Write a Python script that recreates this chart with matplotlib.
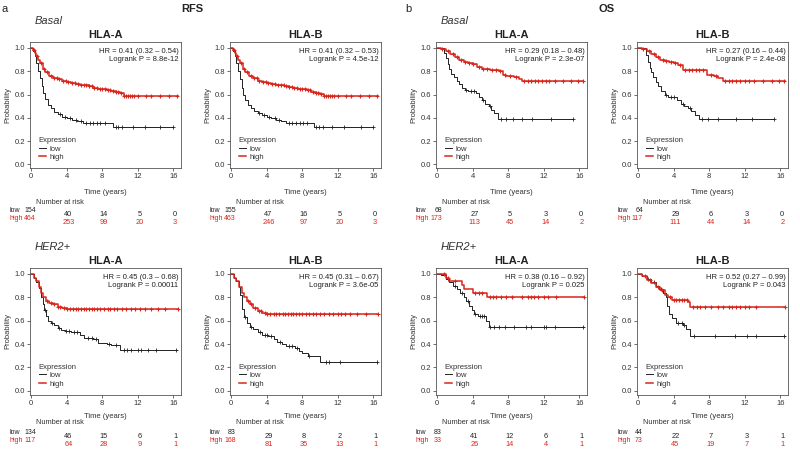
import numpy as np
import matplotlib
matplotlib.use('Agg')
import matplotlib.pyplot as plt
from matplotlib.transforms import blended_transform_factory

plt.rcParams['font.family'] = ['Liberation Sans', 'DejaVu Sans']

# ---------------- data ----------------
risk_times = [0, 4, 8, 12, 16]
x_ticks = [0, 4, 8, 12, 16]
y_ticks = [0.0, 0.2, 0.4, 0.6, 0.8, 1.0]
genes = ["HLA-A", "HLA-B", "HLA-A", "HLA-B", "HLA-A", "HLA-B", "HLA-A", "HLA-B"]
subtypes = ["Basal", None, "Basal", None, "HER2+", None, "HER2+", None]

# Panel 1: RFS Basal HLA-A
p1_low_t = [0, 0.2, 0.4, 0.6, 0.8, 1.0, 1.2, 1.4, 1.6, 1.9, 2.2, 2.6, 3.0, 3.5, 4.0, 4.6, 5.2, 5.8, 9.2, 16.0]
p1_low_s = [1.0, 0.97, 0.93, 0.87, 0.80, 0.74, 0.67, 0.61, 0.56, 0.51, 0.48, 0.45, 0.43, 0.41, 0.40, 0.38, 0.37, 0.355, 0.325, 0.325]
p1_low_c = [3.3, 3.8, 4.4, 5.0, 5.6, 6.2, 6.6, 7.0, 7.4, 7.8, 8.3, 9.5, 9.8, 10.2, 11.5, 12.8, 14.5, 15.9]
p1_high_t = [0, 0.2, 0.4, 0.6, 0.8, 1.0, 1.3, 1.6, 2.0, 2.5, 3.0, 3.5, 4.0, 4.5, 5.0, 5.5, 6.0, 6.5, 7.0, 7.5, 8.0, 8.5, 9.0, 9.5, 10.0, 10.4, 16.5]
p1_high_s = [1.0, 0.98, 0.96, 0.93, 0.90, 0.87, 0.82, 0.79, 0.76, 0.74, 0.73, 0.72, 0.71, 0.70, 0.69, 0.685, 0.68, 0.67, 0.66, 0.65, 0.645, 0.64, 0.63, 0.62, 0.61, 0.59, 0.59]
p1_high_c = [0.3, 0.7, 1.1, 1.5, 1.8, 2.2, 2.6, 2.9, 3.2, 3.6, 3.9, 4.2, 4.6, 4.9, 5.3, 5.6, 5.9, 6.2, 6.5, 6.8, 7.1, 7.4, 7.7, 8.0, 8.3, 8.6, 8.9, 9.2, 9.5, 9.8, 10.1, 10.5, 10.7, 10.9, 11.1, 11.3, 11.6, 12.0, 12.9, 13.5, 14.5, 15.5, 16.4]
p1_risk_low = [154, 40, 14, 5, 0]
p1_risk_high = [464, 253, 99, 20, 3]
p1_hr = "HR = 0.41 (0.32 \u2013 0.54)\nLogrank P = 8.8e-12"

# Panel 2: RFS Basal HLA-B
p2_low_t = [0, 0.2, 0.4, 0.6, 0.8, 1.0, 1.2, 1.4, 1.6, 1.9, 2.2, 2.6, 3.0, 3.5, 4.0, 4.5, 5.0, 5.6, 6.2, 9.3, 16.0]
p2_low_s = [1.0, 0.97, 0.93, 0.87, 0.80, 0.73, 0.66, 0.60, 0.55, 0.51, 0.48, 0.46, 0.44, 0.42, 0.41, 0.40, 0.38, 0.37, 0.355, 0.325, 0.325]
p2_low_c = [3.2, 3.7, 4.3, 4.9, 5.4, 6.5, 6.9, 7.3, 7.7, 8.1, 8.5, 9.6, 9.9, 10.3, 11.4, 12.7, 14.6, 15.9]
p2_high_t = [0, 0.2, 0.4, 0.6, 0.8, 1.0, 1.3, 1.6, 2.0, 2.5, 3.0, 3.5, 4.0, 4.5, 5.0, 5.5, 6.0, 6.5, 7.0, 7.5, 8.0, 8.5, 9.0, 9.5, 10.0, 10.4, 16.5]
p2_high_s = [1.0, 0.98, 0.96, 0.93, 0.90, 0.87, 0.82, 0.79, 0.76, 0.74, 0.72, 0.71, 0.70, 0.69, 0.685, 0.68, 0.675, 0.665, 0.655, 0.65, 0.645, 0.635, 0.625, 0.615, 0.605, 0.59, 0.59]
p2_high_c = [0.3, 0.7, 1.1, 1.5, 1.8, 2.2, 2.6, 2.9, 3.2, 3.6, 3.9, 4.2, 4.6, 4.9, 5.3, 5.6, 5.9, 6.2, 6.5, 6.8, 7.1, 7.4, 7.7, 8.0, 8.3, 8.6, 8.9, 9.2, 9.5, 9.8, 10.1, 10.5, 10.7, 10.9, 11.1, 11.3, 11.6, 12.0, 12.9, 13.5, 14.5, 15.5, 16.4]
p2_risk_low = [155, 47, 16, 5, 0]
p2_risk_high = [463, 246, 97, 20, 3]
p2_hr = "HR = 0.41 (0.32 \u2013 0.53)\nLogrank P = 4.5e-12"

# Panel 3: OS Basal HLA-A
p3_low_t = [0, 0.8, 1.0, 1.2, 1.4, 1.6, 1.9, 2.2, 2.5, 2.8, 3.1, 3.5, 4.4, 4.7, 5.0, 5.4, 5.8, 6.1, 6.4, 6.8, 15.3]
p3_low_s = [1.0, 0.96, 0.91, 0.86, 0.82, 0.78, 0.75, 0.72, 0.69, 0.66, 0.64, 0.63, 0.61, 0.58, 0.55, 0.52, 0.50, 0.47, 0.44, 0.39, 0.39]
p3_low_c = [3.3, 3.8, 4.2, 5.2, 6.0, 7.2, 7.8, 8.5, 9.5, 10.7, 12.8, 15.3]
p3_high_t = [0, 0.5, 1.0, 1.5, 2.0, 2.5, 3.0, 3.5, 4.0, 4.5, 5.0, 6.0, 7.0, 7.4, 7.8, 8.6, 9.2, 9.6, 16.4]
p3_high_s = [1.0, 0.99, 0.97, 0.95, 0.92, 0.90, 0.88, 0.87, 0.86, 0.84, 0.82, 0.81, 0.80, 0.77, 0.76, 0.75, 0.73, 0.72, 0.72]
p3_high_c = [0.6, 1.2, 1.8, 2.3, 2.7, 3.2, 3.6, 4.1, 4.7, 5.2, 5.6, 6.2, 6.6, 7.1, 7.6, 8.2, 8.9, 9.8, 10.2, 10.6, 11.0, 11.4, 11.8, 12.2, 12.6, 13.3, 14.2, 15.0, 15.8, 16.4]
p3_risk_low = [68, 27, 5, 3, 0]
p3_risk_high = [173, 113, 45, 14, 2]
p3_hr = "HR = 0.29 (0.18 \u2013 0.48)\nLogrank P = 2.3e-07"

# Panel 4: OS Basal HLA-B
p4_low_t = [0, 0.9, 1.1, 1.3, 1.5, 1.7, 2.0, 2.3, 2.6, 3.0, 3.4, 4.4, 4.8, 5.2, 5.6, 6.0, 6.4, 6.8, 15.3]
p4_low_s = [1.0, 0.94, 0.88, 0.83, 0.79, 0.75, 0.71, 0.67, 0.63, 0.60, 0.58, 0.55, 0.52, 0.50, 0.48, 0.46, 0.42, 0.39, 0.39]
p4_low_c = [3.2, 3.7, 4.1, 5.0, 5.8, 7.2, 7.9, 9.0, 11.0, 12.8, 15.3]
p4_high_t = [0, 0.5, 1.0, 1.5, 2.0, 2.5, 3.0, 3.5, 4.0, 4.5, 5.0, 7.5, 7.8, 8.5, 9.0, 9.5, 16.5]
p4_high_s = [1.0, 0.99, 0.97, 0.95, 0.92, 0.90, 0.89, 0.88, 0.87, 0.85, 0.81, 0.81, 0.77, 0.76, 0.74, 0.72, 0.72]
p4_high_c = [0.6, 1.2, 1.8, 2.3, 2.8, 3.2, 3.7, 4.2, 4.7, 5.3, 5.7, 6.1, 6.5, 6.9, 7.3, 8.2, 8.8, 9.8, 10.2, 10.6, 11.0, 11.5, 12.0, 12.5, 13.0, 14.0, 15.0, 15.8, 16.4]
p4_risk_low = [64, 29, 6, 3, 0]
p4_risk_high = [117, 111, 44, 14, 2]
p4_hr = "HR = 0.27 (0.16 \u2013 0.44)\nLogrank P = 2.4e-08"

# Panel 5: RFS HER2+ HLA-A
p5_low_t = [0, 0.3, 0.6, 0.9, 1.1, 1.3, 1.5, 1.7, 1.9, 2.2, 2.6, 3.0, 3.4, 3.8, 4.5, 5.5, 6.0, 7.0, 7.5, 8.5, 9.0, 10.0, 16.4]
p5_low_s = [1.0, 0.97, 0.93, 0.88, 0.80, 0.74, 0.69, 0.64, 0.60, 0.58, 0.56, 0.54, 0.52, 0.51, 0.50, 0.48, 0.45, 0.44, 0.41, 0.40, 0.39, 0.35, 0.35]
p5_low_c = [1.6, 2.4, 3.2, 3.9, 4.3, 4.8, 5.2, 6.4, 6.8, 7.3, 8.8, 9.5, 10.5, 10.8, 11.2, 12.0, 12.4, 13.2, 14.0, 16.3]
p5_high_t = [0, 0.3, 0.6, 0.9, 1.1, 1.4, 1.7, 2.0, 2.5, 3.0, 3.5, 4.0, 16.5]
p5_high_s = [1.0, 0.97, 0.94, 0.89, 0.84, 0.80, 0.77, 0.75, 0.74, 0.72, 0.71, 0.70, 0.70]
p5_high_c = [1.8, 2.2, 2.6, 3.0, 3.3, 3.7, 4.1, 4.4, 4.7, 5.0, 5.3, 5.6, 5.9, 6.2, 6.5, 6.8, 7.1, 7.4, 7.8, 8.2, 8.6, 8.9, 9.3, 9.7, 10.2, 10.7, 11.2, 11.7, 12.3, 12.8, 13.5, 14.3, 15.1, 16.5]
p5_risk_low = [134, 46, 15, 6, 1]
p5_risk_high = [117, 64, 28, 9, 1]
p5_hr = "HR = 0.45 (0.3 \u2013 0.68)\nLogrank P = 0.00011"

# Panel 6: RFS HER2+ HLA-B
p6_low_t = [0, 0.3, 0.6, 0.9, 1.0, 1.2, 1.5, 1.8, 2.1, 2.5, 3.0, 3.5, 4.2, 4.8, 5.2, 5.7, 6.2, 7.2, 7.6, 8.0, 8.6, 10.0, 16.4]
p6_low_s = [1.0, 0.97, 0.94, 0.89, 0.82, 0.70, 0.63, 0.58, 0.55, 0.53, 0.50, 0.48, 0.47, 0.44, 0.42, 0.40, 0.38, 0.37, 0.34, 0.32, 0.30, 0.25, 0.25]
p6_low_c = [1.6, 2.3, 3.3, 3.8, 4.0, 4.5, 5.5, 6.5, 6.9, 7.4, 8.8, 10.7, 11.0, 12.2, 16.4]
p6_high_t = [0, 0.3, 0.6, 0.9, 1.2, 1.5, 1.8, 2.1, 2.5, 3.0, 3.5, 4.0, 16.5]
p6_high_s = [1.0, 0.97, 0.94, 0.89, 0.84, 0.80, 0.77, 0.74, 0.71, 0.68, 0.67, 0.66, 0.66]
p6_high_c = [1.9, 2.3, 2.7, 3.1, 3.4, 3.8, 4.1, 4.4, 4.8, 5.1, 5.4, 5.8, 6.1, 6.4, 6.7, 7.0, 7.3, 7.6, 8.0, 8.4, 8.8, 9.2, 9.6, 10.0, 10.5, 11.0, 11.5, 12.0, 12.4, 12.8, 13.4, 14.2, 15.2, 16.5]
p6_risk_low = [83, 29, 8, 2, 1]
p6_risk_high = [168, 81, 35, 13, 1]
p6_hr = "HR = 0.45 (0.31 \u2013 0.67)\nLogrank P = 3.6e-05"

# Panel 7: OS HER2+ HLA-A
p7_low_t = [0, 0.5, 1.0, 1.4, 1.8, 2.2, 2.6, 3.0, 3.3, 3.6, 3.9, 4.2, 4.6, 5.5, 5.8, 16.5]
p7_low_s = [1.0, 0.99, 0.96, 0.93, 0.90, 0.87, 0.84, 0.80, 0.77, 0.73, 0.69, 0.66, 0.64, 0.60, 0.55, 0.55]
p7_low_c = [1.2, 2.0, 2.8, 3.5, 4.3, 4.8, 5.1, 5.3, 6.0, 6.4, 7.0, 7.6, 8.6, 10.0, 10.6, 12.0, 12.3, 13.3, 16.4]
p7_high_t = [0, 1.0, 1.4, 2.8, 3.0, 4.0, 5.6, 16.5]
p7_high_s = [1.0, 0.97, 0.94, 0.91, 0.87, 0.84, 0.80, 0.80]
p7_high_c = [0.8, 1.2, 2.0, 4.3, 4.7, 5.1, 6.0, 6.3, 6.6, 7.2, 7.8, 8.4, 9.6, 10.2, 10.6, 10.9, 11.3, 12.0, 12.5, 13.4, 16.5]
p7_risk_low = [83, 41, 12, 6, 1]
p7_risk_high = [33, 26, 14, 4, 1]
p7_hr = "HR = 0.38 (0.16 \u2013 0.92)\nLogrank P = 0.025"

# Panel 8: OS HER2+ HLA-B
p8_low_t = [0, 0.5, 1.0, 1.5, 2.0, 2.4, 2.8, 3.1, 3.3, 3.5, 3.8, 4.3, 5.0, 5.4, 5.8, 16.5]
p8_low_s = [1.0, 0.98, 0.96, 0.93, 0.90, 0.87, 0.84, 0.80, 0.73, 0.66, 0.62, 0.58, 0.56, 0.53, 0.47, 0.47]
p8_low_c = [1.1, 1.8, 2.6, 4.5, 4.9, 5.2, 6.3, 8.7, 10.9, 12.2, 13.3, 16.4]
p8_high_t = [0, 0.5, 1.0, 1.5, 2.0, 2.5, 3.0, 3.4, 3.8, 5.6, 5.8, 16.5]
p8_high_s = [1.0, 0.98, 0.95, 0.92, 0.89, 0.86, 0.82, 0.80, 0.78, 0.76, 0.72, 0.72]
p8_high_c = [0.8, 1.3, 2.2, 2.7, 3.6, 4.0, 4.3, 4.6, 4.9, 5.2, 5.5, 6.2, 6.6, 7.0, 7.5, 8.2, 9.0, 9.6, 10.2, 10.6, 11.0, 11.5, 12.0, 12.5, 13.3, 16.5]
p8_risk_low = [44, 22, 7, 3, 1]
p8_risk_high = [73, 45, 19, 7, 1]
p8_hr = "HR = 0.52 (0.27 \u2013 0.99)\nLogrank P = 0.043"

panels = [
    (p1_low_t, p1_low_s, p1_low_c, p1_high_t, p1_high_s, p1_high_c, p1_risk_low, p1_risk_high, p1_hr),
    (p2_low_t, p2_low_s, p2_low_c, p2_high_t, p2_high_s, p2_high_c, p2_risk_low, p2_risk_high, p2_hr),
    (p3_low_t, p3_low_s, p3_low_c, p3_high_t, p3_high_s, p3_high_c, p3_risk_low, p3_risk_high, p3_hr),
    (p4_low_t, p4_low_s, p4_low_c, p4_high_t, p4_high_s, p4_high_c, p4_risk_low, p4_risk_high, p4_hr),
    (p5_low_t, p5_low_s, p5_low_c, p5_high_t, p5_high_s, p5_high_c, p5_risk_low, p5_risk_high, p5_hr),
    (p6_low_t, p6_low_s, p6_low_c, p6_high_t, p6_high_s, p6_high_c, p6_risk_low, p6_risk_high, p6_hr),
    (p7_low_t, p7_low_s, p7_low_c, p7_high_t, p7_high_s, p7_high_c, p7_risk_low, p7_risk_high, p7_hr),
    (p8_low_t, p8_low_s, p8_low_c, p8_high_t, p8_high_s, p8_high_c, p8_risk_low, p8_risk_high, p8_hr),
]

# ---------------- layout ----------------
W, H = 800, 449
fig = plt.figure(figsize=(8, 4.49), dpi=100)

RED = '#d9261c'
BLK = '#222222'
GRY = '#333333'
XLIM = (-0.15, 16.8)
YLIM = (-0.035, 1.05)
PX_PER_YEAR = 8.9
col_x0 = [31, 231, 437, 638]       # pixel of t=0
row_y1 = [48, 274]                 # pixel of p=1.0
row_y0 = [164.3, 390.7]            # pixel of p=0.0
row_xlabel_y = [192, 416]
# (Number at risk, low first col, high first col, low other cols, high other cols)
row_risk_y = [(202, 211, 219, 214, 222), (423, 433, 441, 436, 444)]
FS = 5.5


def fx(px):
    return px / W


def fy(py):
    return 1 - py / H


def step_value(t, s, c):
    idx = np.searchsorted(np.asarray(t), np.asarray(c), side='right') - 1
    return np.asarray(s)[idx]


for i, (lt, ls, lc, ht, hs, hc, rl, rh, hr) in enumerate(panels):
    r, col = divmod(i, 4)
    x0 = col_x0[col]
    left = x0 + XLIM[0] * PX_PER_YEAR
    right = x0 + XLIM[1] * PX_PER_YEAR
    ppu = row_y0[r] - row_y1[r]
    top = row_y0[r] - YLIM[1] * ppu
    bottom = row_y0[r] - YLIM[0] * ppu
    ax = fig.add_axes([fx(left), fy(bottom), (right - left) / W, (bottom - top) / H])

    l_low, = ax.step(lt, ls, where='post', color=BLK, lw=0.7, label='low')
    ax.plot(lc, step_value(lt, ls, lc), ls='none', marker='+', ms=2.8, mew=0.6, color=BLK)
    l_high, = ax.step(ht, hs, where='post', color=RED, lw=1.1, label='high')
    ax.plot(hc, step_value(ht, hs, hc), ls='none', marker='+', ms=3.0, mew=0.8, color=RED)

    ax.set_xlim(*XLIM)
    ax.set_ylim(*YLIM)
    ax.set_xticks(x_ticks)
    ax.set_yticks(y_ticks)
    ax.set_yticklabels([f"{v:.1f}" for v in y_ticks])
    ax.tick_params(labelsize=FS, length=2, width=0.5, pad=1.5, colors=GRY)
    for sp in ax.spines.values():
        sp.set_linewidth(0.6)
        sp.set_color('#555555')
    ax.set_ylabel('Probability', fontsize=FS, labelpad=2, color=GRY)

    ax.set_title(genes[i], fontsize=8, fontweight='bold', pad=3.0, color=BLK)
    ax.text(0.985, 0.955, hr, transform=ax.transAxes, ha='right', va='top',
            fontsize=FS, linespacing=1.3, color=BLK)

    leg = ax.legend(handles=[l_low, l_high], labels=['low', 'high'], title='Expression',
                    loc='lower left', bbox_to_anchor=(0.025, 0.015), frameon=False,
                    fontsize=FS, title_fontsize=FS, handlelength=1.0, handletextpad=0.4,
                    labelspacing=0.15, borderpad=0.2, alignment='left')
    for txt in leg.get_texts():
        txt.set_color(GRY)
    leg.get_title().set_color(GRY)

    # x label
    fig.text(fx((left + right) / 2), fy(row_xlabel_y[r]), 'Time (years)', fontsize=FS,
             ha='center', va='center', color=GRY)

    # number at risk
    tr = blended_transform_factory(ax.transData, fig.transFigure)
    ny, ly0, hy0, ly, hy = row_risk_y[r]
    fig.text(fx(left + 6), fy(ny), 'Number at risk', fontsize=5.3, ha='left', va='center', color=GRY)
    fig.text(fx(x0 - 21), fy(ly0), 'low', fontsize=5, ha='left', va='center', color=BLK)
    fig.text(fx(x0 - 21), fy(hy0), 'high', fontsize=5, ha='left', va='center', color=RED)
    for k, tt in enumerate(risk_times):
        if k == 0:
            ax.text(tt + 0.55, fy(ly0), str(rl[k]), transform=tr, fontsize=5, ha='right', va='center', color=BLK)
            ax.text(tt + 0.55, fy(hy0), str(rh[k]), transform=tr, fontsize=5, ha='right', va='center', color=RED)
        else:
            ax.text(tt + 0.2, fy(ly), str(rl[k]), transform=tr, fontsize=5.3, ha='center', va='center', color=BLK)
            ax.text(tt + 0.2, fy(hy), str(rh[k]), transform=tr, fontsize=5.3, ha='center', va='center', color=RED)

    if subtypes[i]:
        fig.text(fx(left + 5), fy(row_y1[r] - 27), subtypes[i], fontsize=8, style='italic',
                 ha='left', va='center', color=GRY)

fig.text(fx(2), fy(9), 'a', fontsize=8, ha='left', va='center', color=BLK)
fig.text(fx(405), fy(9), 'b', fontsize=8, ha='left', va='center', color=BLK)
fig.text(fx(192), fy(9), 'RFS', fontsize=8, fontweight='bold', ha='center', va='center', color=BLK)
fig.text(fx(607), fy(9), 'OS', fontsize=8, fontweight='bold', ha='center', va='center', color=BLK)

fig.savefig('out.png', dpi=100, facecolor='white')
